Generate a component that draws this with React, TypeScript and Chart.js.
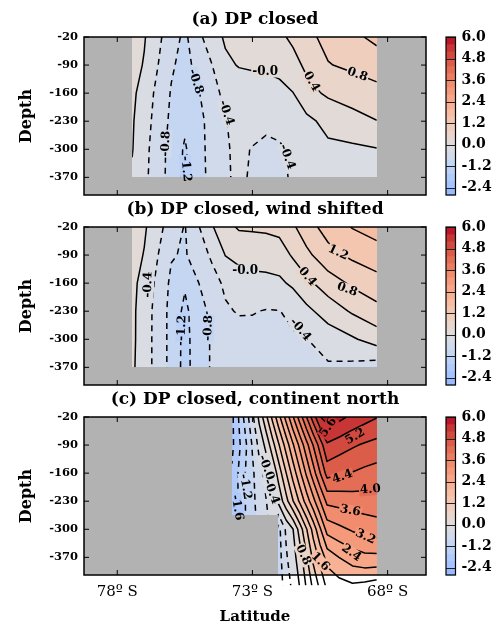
import React, { useEffect, useRef } from "react";
import { Chart, registerables } from "chart.js";
Chart.register(...registerables);

const SERIF = "'DejaVu Serif', serif";

// ---------- data ----------
const LAT_TICKS = [-78, -73, -68];
const DEPTH_TICKS = [-20, -90, -160, -230, -300, -370];
const CB_TICKS = [-2.4, -1.2, 0.0, 1.2, 2.4, 3.6, 4.8, 6.0];
const LEVELS = [-2.8, -2.4, -2.0, -1.6, -1.2, -0.8, -0.4, 0.0, 0.4, 0.8, 1.2, 1.6, 2.0, 2.4, 2.8, 3.2, 3.6, 4.0, 4.4, 4.8, 5.2, 5.6, 6.0];

const LAT_AB = [-77.45, -77.0, -76.5, -76.0, -75.5, -75.0, -74.5, -74.0, -73.5, -73.0, -72.5, -72.0, -71.5, -71.0, -70.2, -69.3, -68.4];
const DEPTH_AB = [-20, -90, -160, -230, -300, -370];

const VALUES_A = [
  [0.2, 0.03, -0.30, -0.64, -0.88, -0.50, -0.17, 0.05, 0.10, 0.15, 0.22, 0.33, 0.47, 0.69, 0.92, 1.11, 1.30],
  [0.15, -0.03, -0.39, -0.75, -0.93, -0.67, -0.41, -0.07, 0.02, 0.03, 0.04, 0.08, 0.28, 0.47, 0.78, 0.88, 0.98],
  [0.08, -0.16, -0.51, -0.83, -1.00, -0.83, -0.54, -0.30, -0.20, -0.12, -0.10, -0.08, -0.01, 0.28, 0.46, 0.57, 0.68],
  [0.04, -0.23, -0.56, -0.88, -1.12, -0.92, -0.65, -0.41, -0.33, -0.32, -0.34, -0.30, -0.22, -0.10, 0.12, 0.26, 0.39],
  [0.02, -0.28, -0.61, -0.94, -1.25, -0.90, -0.70, -0.42, -0.36, -0.41, -0.46, -0.44, -0.34, -0.22, -0.08, -0.07, -0.02],
  [-0.05, -0.31, -0.62, -0.95, -1.28, -0.92, -0.70, -0.42, -0.37, -0.42, -0.50, -0.47, -0.36, -0.25, -0.18, -0.16, -0.15],
];

const VALUES_B = [
  [0.20, 0.05, -0.25, -0.62, -0.82, -0.43, -0.04, 0.29, 0.44, 0.45, 0.47, 0.52, 0.74, 1.03, 1.36, 1.62, 1.78],
  [0.15, -0.02, -0.39, -0.77, -0.84, -0.59, -0.34, 0.01, 0.12, 0.15, 0.16, 0.20, 0.45, 0.70, 1.07, 1.28, 1.41],
  [0.10, -0.14, -0.50, -0.88, -1.15, -0.81, -0.55, -0.33, -0.20, -0.12, -0.10, -0.07, 0.07, 0.30, 0.60, 0.87, 1.06],
  [0.08, -0.19, -0.56, -0.92, -1.30, -0.95, -0.71, -0.45, -0.37, -0.38, -0.42, -0.41, -0.30, -0.10, 0.18, 0.45, 0.67],
  [0.08, -0.20, -0.56, -0.92, -1.32, -1.00, -0.76, -0.62, -0.56, -0.52, -0.50, -0.48, -0.45, -0.41, -0.22, -0.05, 0.18],
  [0.06, -0.20, -0.56, -0.92, -1.33, -1.00, -0.76, -0.64, -0.60, -0.58, -0.56, -0.55, -0.53, -0.50, -0.45, -0.50, -0.60],
];

const LAT_C = [-73.76, -73.5, -73.25, -73.0, -72.75, -72.5, -72.25, -72.04, -71.75, -71.5, -71.25, -71.0, -70.75, -70.5, -70.24, -69.8, -69.3, -68.85, -68.4];
const DEPTH_C = [-20, -90, -160, -230, -300, -370, -440];
const VALUES_C = [
  [-2.10, -1.57, -1.02, -0.49, 0.09, 0.70, 1.32, 1.84, 2.55, 3.17, 3.78, 4.40, 5.01, 5.58, 5.75, 5.72, 5.50, 5.35, 5.22],
  [-2.10, -1.68, -1.27, -0.76, -0.28, 0.10, 0.66, 1.13, 1.78, 2.35, 2.90, 3.46, 4.02, 4.57, 5.15, 5.00, 4.85, 4.75, 4.67],
  [-1.95, -1.55, -1.18, -0.87, -0.56, -0.27, 0.08, 0.55, 1.20, 1.76, 2.31, 2.87, 3.42, 3.98, 4.55, 4.45, 4.38, 4.30, 4.24],
  [-1.90, -1.55, -1.18, -0.90, -0.64, -0.42, -0.16, 0.09, 0.67, 1.18, 1.67, 2.18, 2.67, 3.18, 3.70, 3.75, 3.80, 3.82, 3.83],
  [-1.90, -1.55, -1.21, -0.95, -0.70, -0.50, -0.30, -0.95, -0.32, -0.01, 0.57, 1.17, 1.75, 2.34, 2.95, 3.10, 3.25, 3.35, 3.42],
  [-1.90, -1.55, -1.21, -0.95, -0.70, -0.50, -0.30, -1.00, -0.45, -0.15, 0.20, 0.75, 1.30, 1.72, 2.15, 2.40, 2.60, 2.70, 2.70],
  [-1.90, -1.55, -1.21, -0.95, -0.70, -0.50, -0.30, -1.05, -0.60, -0.30, 0.02, 0.45, 0.90, 1.30, 1.70, 1.85, 1.95, 1.90, 1.82],
];
const SHELF_C_LAT = -72.04;
const SHELF_C_DEPTH = -264.5;

// contour labels: [lat, depth, text, angle]
const LABELS_A: [number, number, string, number][] = [
  [-72.53, -106, "-0.0", 0],
  [-70.82, -131, "0.4", 60],
  [-69.12, -114, "0.8", 20],
  [-75.1, -131, "-0.8", 72],
  [-73.97, -209, "-0.4", 72],
  [-76.2, -286, "-0.8", -88],
  [-75.46, -349, "-1.2", 85],
  [-71.72, -319, "-0.4", 70],
];
const LABELS_B: [number, number, string, number][] = [
  [-73.27, -129, "-0.0", 0],
  [-70.97, -144, "0.4", 50],
  [-69.83, -84, "1.2", 25],
  [-69.5, -176, "0.8", 20],
  [-76.86, -164, "-0.4", -88],
  [-75.61, -272, "-1.2", -88],
  [-74.63, -272, "-0.8", -88],
  [-71.23, -276, "-0.4", 50],
];
const LABELS_C: [number, number, string, number][] = [
  [-70.2, -46, "5.6", -55],
  [-69.2, -69, "5.2", -30],
  [-69.67, -169, "4.4", -20],
  [-68.64, -201, "4.0", -5],
  [-69.38, -254, "3.6", 10],
  [-68.82, -319, "3.2", 25],
  [-69.34, -359, "2.4", 35],
  [-70.49, -381, "1.6", 45],
  [-71.12, -364, "0.8", 65],
  [-72.49, -146, "-0.0", 70],
  [-72.3, -206, "-0.4", 70],
  [-73.26, -194, "-1.2", 80],
  [-73.57, -246, "-1.6", 80],
];

// ---------- style ----------
const X_MIN = -79.23, X_MAX = -66.58, Y_MIN = -414, Y_MAX = -20;
const NORM_MIN = -6, NORM_MAX = 6;
const GRAY = [178, 178, 178];
const COOLWARM = [
  [59, 76, 192], [68, 90, 204], [77, 104, 215], [87, 117, 225], [98, 130, 234], [108, 142, 241], [119, 154, 247], [130, 165, 251],
  [141, 176, 254], [152, 185, 255], [163, 194, 255], [174, 201, 253], [184, 208, 249], [194, 213, 244], [204, 217, 238], [213, 219, 230],
  [221, 221, 221], [229, 216, 209], [236, 211, 197], [241, 204, 185], [245, 196, 173], [247, 187, 160], [247, 177, 148], [247, 166, 135],
  [244, 154, 123], [241, 141, 111], [236, 127, 99], [229, 112, 88], [222, 96, 77], [213, 80, 66], [203, 62, 56], [192, 40, 47], [180, 4, 38],
];

function cmap(t: number): number[] {
  t = Math.max(0, Math.min(1, t));
  const f = t * (COOLWARM.length - 1);
  const i = Math.min(Math.floor(f), COOLWARM.length - 2);
  const u = f - i;
  return COOLWARM[i].map((c, k) => Math.round(c + u * (COOLWARM[i + 1][k] - c)));
}
function bandColor(v: number): number[] {
  let k = 0;
  while (k < LEVELS.length - 2 && v >= LEVELS[k + 1]) k++;
  const mid = (LEVELS[k] + LEVELS[k + 1]) / 2;
  return cmap((mid - NORM_MIN) / (NORM_MAX - NORM_MIN));
}
const rgbStr = (c: number[]) => `rgb(${c[0]},${c[1]},${c[2]})`;

type Spec = {
  title: string;
  lats: number[];
  depths: number[];
  values: number[][];
  labels: [number, number, string, number][];
  shelf: null | { lat: number; depth: number };
  showX: boolean;
};

function sample(spec: Spec, x: number, y: number): number {
  const xs = spec.lats, ys = spec.depths, z = spec.values;
  let i = 0;
  while (i < xs.length - 2 && x > xs[i + 1]) i++;
  let j = 0;
  while (j < ys.length - 2 && y < ys[j + 1]) j++;
  const tx = Math.max(0, Math.min(1, (x - xs[i]) / (xs[i + 1] - xs[i])));
  const ty = Math.max(0, Math.min(1, (y - ys[j]) / (ys[j + 1] - ys[j])));
  const a = z[j][i], b = z[j][i + 1], c = z[j + 1][i + 1], d = z[j + 1][i];
  return a * (1 - tx) * (1 - ty) + b * tx * (1 - ty) + c * tx * ty + d * (1 - tx) * ty;
}
function inDomain(spec: Spec, x: number, y: number): boolean {
  const xs = spec.lats, ys = spec.depths;
  if (x < xs[0] || x > xs[xs.length - 1]) return false;
  if (y > ys[0] || y < ys[ys.length - 1]) return false;
  if (spec.shelf && x < spec.shelf.lat && y < spec.shelf.depth) return false;
  return true;
}

type Pt = [number, number];
function contourLines(xs: number[], ys: number[], z: number[][], L: number): Pt[][] {
  const segs: { a: string; b: string; pa: Pt; pb: Pt }[] = [];
  const pt = (i1: number, j1: number, i2: number, j2: number): Pt => {
    const v1 = z[j1][i1], v2 = z[j2][i2];
    const t = (L - v1) / (v2 - v1);
    return [xs[i1] + t * (xs[i2] - xs[i1]), ys[j1] + t * (ys[j2] - ys[j1])];
  };
  for (let j = 0; j < ys.length - 1; j++) {
    for (let i = 0; i < xs.length - 1; i++) {
      const a = z[j][i], b = z[j][i + 1], c = z[j + 1][i + 1], d = z[j + 1][i];
      const up = [a >= L, b >= L, c >= L, d >= L];
      const e: { k: string; p: Pt }[] = [];
      const E: ({ k: string; p: Pt } | null)[] = [null, null, null, null];
      if (up[0] !== up[1]) E[0] = { k: `h${j}_${i}`, p: pt(i, j, i + 1, j) };
      if (up[1] !== up[2]) E[1] = { k: `v${j}_${i + 1}`, p: pt(i + 1, j, i + 1, j + 1) };
      if (up[3] !== up[2]) E[2] = { k: `h${j + 1}_${i}`, p: pt(i, j + 1, i + 1, j + 1) };
      if (up[0] !== up[3]) E[3] = { k: `v${j}_${i}`, p: pt(i, j, i, j + 1) };
      E.forEach((x) => x && e.push(x));
      const mk = (p: { k: string; p: Pt }, q: { k: string; p: Pt }) => ({ a: p.k, b: q.k, pa: p.p, pb: q.p });
      if (e.length === 2) segs.push(mk(e[0], e[1]));
      else if (e.length === 4) {
        const center = (a + b + c + d) / 4 >= L;
        if (center === up[0]) { segs.push(mk(E[0]!, E[1]!)); segs.push(mk(E[2]!, E[3]!)); }
        else { segs.push(mk(E[0]!, E[3]!)); segs.push(mk(E[1]!, E[2]!)); }
      }
    }
  }
  const map = new Map<string, number[]>();
  segs.forEach((s, idx) => {
    for (const k of [s.a, s.b]) {
      if (!map.has(k)) map.set(k, []);
      map.get(k)!.push(idx);
    }
  });
  const used = new Array(segs.length).fill(false);
  const lines: Pt[][] = [];
  const walk = (si: number, key: string) => {
    const pts: Pt[] = [];
    const s0 = segs[si];
    pts.push(key === s0.a ? s0.pa : s0.pb);
    let cur = si;
    while (cur !== -1 && !used[cur]) {
      used[cur] = true;
      const s = segs[cur];
      const nk = key === s.a ? s.b : s.a;
      pts.push(nk === s.a ? s.pa : s.pb);
      const cand = (map.get(nk) || []).filter((x) => !used[x]);
      cur = cand.length ? cand[0] : -1;
      key = nk;
    }
    lines.push(pts);
  };
  segs.forEach((s, idx) => {
    if (used[idx]) return;
    if (map.get(s.a)!.length === 1) walk(idx, s.a);
    else if (map.get(s.b)!.length === 1) walk(idx, s.b);
  });
  segs.forEach((s, idx) => { if (!used[idx]) walk(idx, s.a); });
  return lines;
}

function domainPath(ctx: CanvasRenderingContext2D, spec: Spec, xS: any, yS: any) {
  const x0 = spec.lats[0], x1 = spec.lats[spec.lats.length - 1];
  const y0 = spec.depths[0], y1 = spec.depths[spec.depths.length - 1];
  const P = (x: number, y: number): [number, number] => [xS.getPixelForValue(x), yS.getPixelForValue(y)];
  const poly: [number, number][] = spec.shelf
    ? [P(x0, y0), P(x1, y0), P(x1, y1), P(spec.shelf.lat, y1), P(spec.shelf.lat, spec.shelf.depth), P(x0, spec.shelf.depth)]
    : [P(x0, y0), P(x1, y0), P(x1, y1), P(x0, y1)];
  ctx.beginPath();
  poly.forEach(([px, py], k) => (k ? ctx.lineTo(px, py) : ctx.moveTo(px, py)));
  ctx.closePath();
}

function fieldPlugin(spec: Spec) {
  return {
    id: "field",
    afterDatasetsDraw(chart: any) {
      const { ctx, chartArea } = chart;
      const xS = chart.scales.x, yS = chart.scales.y;
      const L = Math.round(chartArea.left), T = Math.round(chartArea.top);
      const W = Math.round(chartArea.right) - L, H = Math.round(chartArea.bottom) - T;
      const off = document.createElement("canvas");
      off.width = W; off.height = H;
      const octx = off.getContext("2d")!;
      const img = octx.createImageData(W, H);
      const latAt: number[] = [];
      for (let px = 0; px < W; px++) latAt.push(xS.getValueForPixel(L + px + 0.5));
      for (let py = 0; py < H; py++) {
        const dep = yS.getValueForPixel(T + py + 0.5);
        for (let px = 0; px < W; px++) {
          const lat = latAt[px];
          const c = inDomain(spec, lat, dep) ? bandColor(sample(spec, lat, dep)) : GRAY;
          const o = (py * W + px) * 4;
          img.data[o] = c[0]; img.data[o + 1] = c[1]; img.data[o + 2] = c[2]; img.data[o + 3] = 255;
        }
      }
      octx.putImageData(img, 0, 0);
      ctx.drawImage(off, L, T);

      ctx.save();
      domainPath(ctx, spec, xS, yS);
      ctx.clip();
      ctx.strokeStyle = "#000";
      ctx.lineWidth = 1.5;
      ctx.lineJoin = "round";
      for (const lev of LEVELS) {
        const lines = contourLines(spec.lats, spec.depths, spec.values, lev);
        ctx.setLineDash(lev < 0 ? [6, 5] : []);
        ctx.beginPath();
        for (const line of lines) {
          line.forEach(([la, de], k) => {
            const px = xS.getPixelForValue(la), py = yS.getPixelForValue(de);
            if (k) ctx.lineTo(px, py); else ctx.moveTo(px, py);
          });
        }
        ctx.stroke();
      }
      ctx.setLineDash([]);
      ctx.font = `bold 12px ${SERIF}`;
      for (const [la, de, txt, ang] of spec.labels) {
        const px = xS.getPixelForValue(la), py = yS.getPixelForValue(de);
        const w = ctx.measureText(txt).width;
        ctx.save();
        ctx.translate(px, py);
        ctx.rotate((ang * Math.PI) / 180);
        ctx.fillStyle = rgbStr(bandColor(sample(spec, la, de)));
        ctx.fillRect(-w / 2 - 1, -6, w + 2, 12);
        ctx.restore();
      }
      ctx.restore();

      ctx.save();
      ctx.font = `bold 12px ${SERIF}`;
      ctx.fillStyle = "#000";
      ctx.textAlign = "center";
      ctx.textBaseline = "middle";
      for (const [la, de, txt, ang] of spec.labels) {
        const px = xS.getPixelForValue(la), py = yS.getPixelForValue(de);
        ctx.save();
        ctx.translate(px, py);
        ctx.rotate((ang * Math.PI) / 180);
        ctx.fillText(txt, 0, 0);
        ctx.restore();
      }
      ctx.restore();

      // frame + inward ticks
      ctx.save();
      ctx.strokeStyle = "#000";
      ctx.lineWidth = 1.5;
      ctx.strokeRect(chartArea.left, chartArea.top, chartArea.right - chartArea.left, chartArea.bottom - chartArea.top);
      ctx.lineWidth = 1;
      ctx.beginPath();
      for (const v of DEPTH_TICKS) {
        const y = yS.getPixelForValue(v);
        ctx.moveTo(chartArea.left, y); ctx.lineTo(chartArea.left + 5, y);
        ctx.moveTo(chartArea.right - 5, y); ctx.lineTo(chartArea.right, y);
      }
      for (const v of LAT_TICKS) {
        const x = xS.getPixelForValue(v);
        ctx.moveTo(x, chartArea.top); ctx.lineTo(x, chartArea.top + 5);
        ctx.moveTo(x, chartArea.bottom - 5); ctx.lineTo(x, chartArea.bottom);
      }
      ctx.stroke();
      ctx.restore();
    },
  };
}

const colorbarPlugin = {
  id: "colorbar",
  afterDatasetsDraw(chart: any) {
    const { ctx, chartArea } = chart;
    const yS = chart.scales.y;
    const l = chartArea.left, r = chartArea.right;
    for (let k = 0; k < LEVELS.length - 1; k++) {
      const y1 = yS.getPixelForValue(LEVELS[k]);
      const y2 = yS.getPixelForValue(LEVELS[k + 1]);
      ctx.fillStyle = rgbStr(bandColor((LEVELS[k] + LEVELS[k + 1]) / 2));
      ctx.fillRect(l, y2, r - l, y1 - y2 + 0.5);
    }
    ctx.save();
    ctx.strokeStyle = "#222";
    ctx.lineWidth = 1;
    ctx.beginPath();
    for (const v of CB_TICKS) {
      const y = Math.round(yS.getPixelForValue(v)) + 0.5;
      ctx.moveTo(l, y); ctx.lineTo(r, y);
    }
    ctx.stroke();
    ctx.lineWidth = 1.2;
    ctx.strokeStyle = "#000";
    ctx.strokeRect(l, chartArea.top, r - l, chartArea.bottom - chartArea.top);
    ctx.restore();
  },
};

function Panel({ spec, top, height }: { spec: Spec; top: number; height: number }) {
  const mainRef = useRef<HTMLCanvasElement>(null);
  const cbRef = useRef<HTMLCanvasElement>(null);
  useEffect(() => {
    const main = new Chart(mainRef.current!, {
      type: "scatter",
      data: { datasets: [{ data: [] }] },
      options: {
        animation: false,
        responsive: false,
        maintainAspectRatio: false,
        events: [],
        layout: { padding: { left: 0, right: 14, top: 0, bottom: spec.showX ? 0 : 5 } },
        plugins: {
          legend: { display: false },
          tooltip: { enabled: false },
          title: {
            display: true,
            text: spec.title,
            fullSize: false,
            color: "#000",
            font: { family: SERIF, size: 17, weight: "bold" },
            padding: { top: 9.8, bottom: 6.8 },
          },
        },
        scales: {
          x: {
            type: "linear",
            min: X_MIN,
            max: X_MAX,
            display: spec.showX,
            grid: { display: false, drawTicks: false },
            border: { display: false },
            ticks: {
              autoSkip: false,
              color: "#000",
              padding: 8,
              maxRotation: 0,
              font: { family: SERIF, size: 15 },
              callback: (v: any) => `${Math.abs(Number(v))}º S`,
            },
            afterBuildTicks: (s: any) => { s.ticks = LAT_TICKS.map((v) => ({ value: v })); },
            title: {
              display: true,
              text: "Latitude",
              color: "#000",
              font: { family: SERIF, size: 15, weight: "bold" },
              padding: { top: 0, bottom: 2 },
            },
            afterFit: (s: any) => {
              s.height = spec.showX ? 53 : 0;
              s.paddingLeft = 0; s.paddingRight = 0;
            },
          },
          y: {
            type: "linear",
            min: Y_MIN,
            max: Y_MAX,
            grid: { display: false, drawTicks: false },
            border: { display: false },
            ticks: {
              autoSkip: false,
              color: "#000",
              padding: 6,
              font: { family: SERIF, size: 11.5, weight: "bold" },
              callback: (v: any) => String(v),
            },
            afterBuildTicks: (s: any) => { s.ticks = DEPTH_TICKS.map((v) => ({ value: v })); },
            title: {
              display: true,
              text: "Depth",
              color: "#000",
              font: { family: SERIF, size: 16, weight: "bold" },
              padding: { top: 17, bottom: 0 },
            },
            afterFit: (s: any) => { s.width = 84; s.paddingTop = 0; s.paddingBottom = 0; },
          },
        },
      } as any,
      plugins: [fieldPlugin(spec)],
    });
    const cb = new Chart(cbRef.current!, {
      type: "scatter",
      data: { datasets: [] },
      options: {
        animation: false,
        responsive: false,
        maintainAspectRatio: false,
        events: [],
        layout: { padding: { left: 6, right: 0, top: 37, bottom: 5 } },
        plugins: { legend: { display: false }, tooltip: { enabled: false } },
        scales: {
          x: { type: "linear", display: false, min: 0, max: 1, afterFit: (s: any) => { s.height = 0; } },
          y: {
            type: "linear",
            position: "right",
            min: LEVELS[0],
            max: LEVELS[LEVELS.length - 1],
            grid: { display: false, drawTicks: false },
            border: { display: false },
            ticks: {
              autoSkip: false,
              color: "#000",
              padding: 6,
              font: { family: SERIF, size: 14, weight: "bold" },
              callback: (v: any) => Number(v).toFixed(1),
            },
            afterBuildTicks: (s: any) => { s.ticks = CB_TICKS.map((v) => ({ value: v })); },
            afterFit: (s: any) => { s.width = 47.5; s.paddingTop = 0; s.paddingBottom = 0; },
          },
        },
      } as any,
      plugins: [colorbarPlugin],
    });
    return () => { main.destroy(); cb.destroy(); };
  }, [spec]);
  return (
    <>
      <canvas ref={mainRef} width={440} height={height} style={{ position: "absolute", left: 0, top, width: 440, height }} />
      <canvas ref={cbRef} width={63} height={200} style={{ position: "absolute", left: 440, top, width: 63, height: 200 }} />
    </>
  );
}

const SPEC_A: Spec = { title: "(a) DP closed", lats: LAT_AB, depths: DEPTH_AB, values: VALUES_A, labels: LABELS_A, shelf: null, showX: false };
const SPEC_B: Spec = { title: "(b) DP closed, wind shifted", lats: LAT_AB, depths: DEPTH_AB, values: VALUES_B, labels: LABELS_B, shelf: null, showX: false };
const SPEC_C: Spec = { title: "(c) DP closed, continent north", lats: LAT_C, depths: DEPTH_C, values: VALUES_C, labels: LABELS_C, shelf: { lat: SHELF_C_LAT, depth: SHELF_C_DEPTH }, showX: true };

export default function App() {
  return (
    <div style={{ position: "fixed", left: 0, top: 0, width: 503, height: 628, background: "#fff", overflow: "hidden" }}>
      <Panel spec={SPEC_A} top={0} height={200} />
      <Panel spec={SPEC_B} top={190} height={200} />
      <Panel spec={SPEC_C} top={380} height={248} />
    </div>
  );
}
